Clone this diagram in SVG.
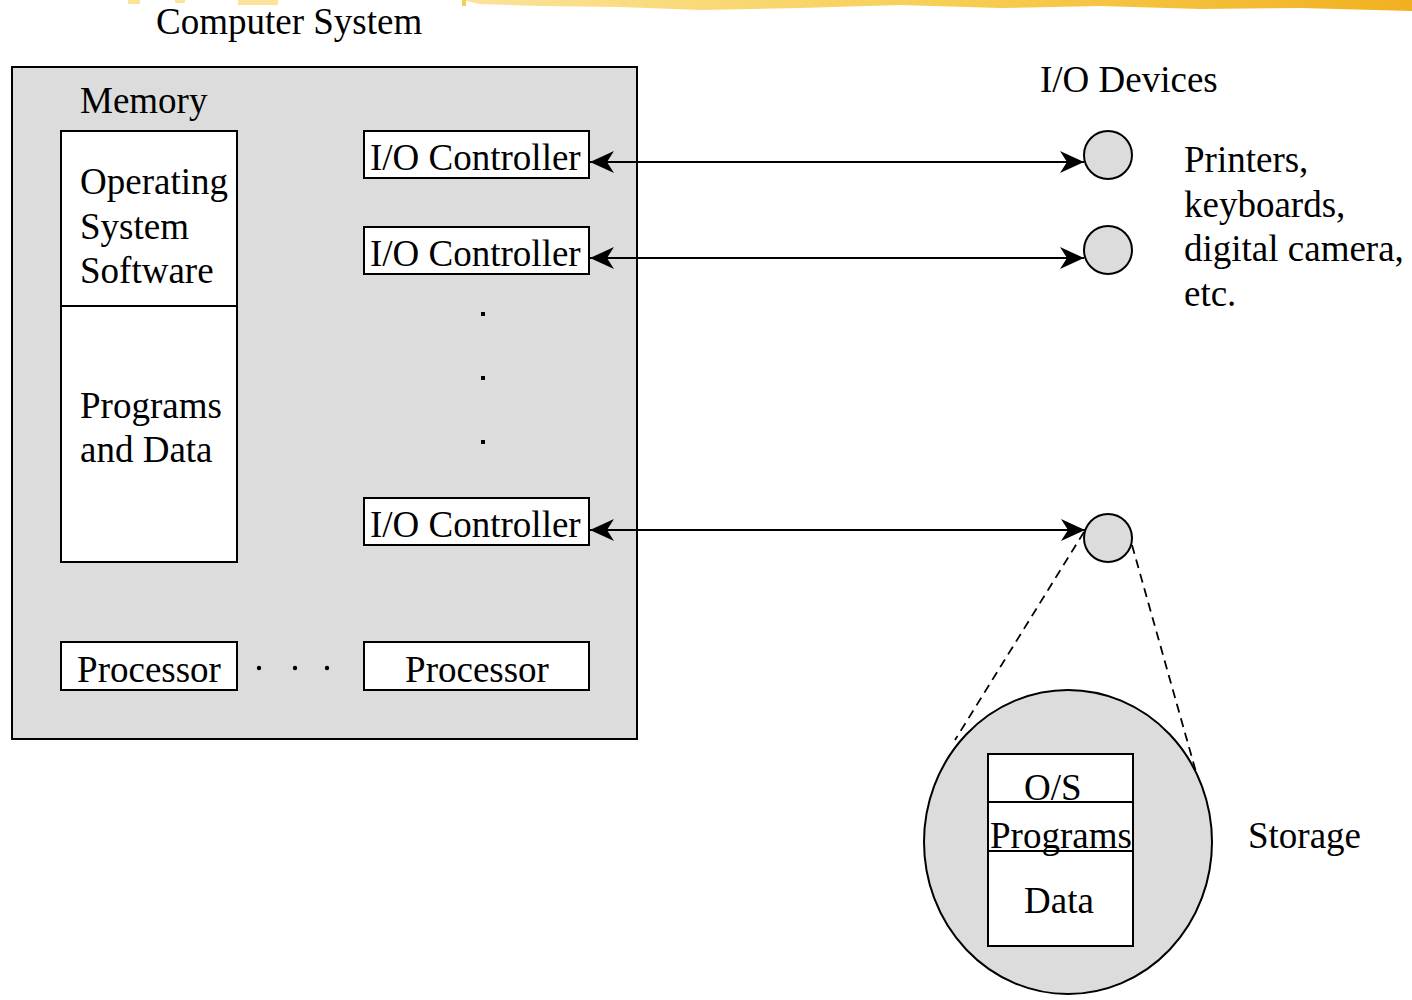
<svg xmlns="http://www.w3.org/2000/svg" width="1412" height="1000" viewBox="0 0 1412 1000">
  <style>
    text { font-family: "Liberation Serif", "Times New Roman", serif; font-size: 37px; fill: #000; }
    .box { fill: #fff; stroke: #000; stroke-width: 2; }
    .gray { fill: #dcdcdc; stroke: #000; stroke-width: 2; }
    .link { stroke: #000; stroke-width: 2; fill: none; }
    .dash { stroke: #000; stroke-width: 1.8; fill: none; stroke-dasharray: 9 6; }
    .dot { fill: #000; }
  </style>
  <defs>
    <marker id="head" markerUnits="userSpaceOnUse" markerWidth="26" markerHeight="22" viewBox="0 0 26 22" refX="24" refY="11" orient="auto-start-reverse">
      <path d="M0,0 L24,11 L0,22 L7,11 Z" fill="#000"/>
    </marker>
    <linearGradient id="brush" x1="0" y1="0" x2="1" y2="0">
      <stop offset="0" stop-color="#fbe39a"/>
      <stop offset="0.5" stop-color="#f7cf55"/>
      <stop offset="1" stop-color="#f2b020"/>
    </linearGradient>
  </defs>

  <rect width="1412" height="1000" fill="#fff"/>

  <!-- yellow brush stroke along the top edge -->
  <g id="brush-stroke">
    <path d="M462,0 L1412,0 L1412,11 L1300,8 L1200,9 L1100,6 L1000,8 L900,5 L800,8 L700,10 L620,7 L540,6 L480,4 Z" fill="url(#brush)"/>
    <rect x="128" y="0" width="12" height="4" fill="#fbe39a"/>
    <rect x="175" y="0" width="10" height="3" fill="#fbe39a"/>
    <rect x="238" y="0" width="40" height="5" fill="#fbe39a"/>
    <rect x="462" y="0" width="4" height="6" fill="#f7cf55"/>
  </g>

  <text x="156" y="34">Computer System</text>

  <!-- computer system enclosure -->
  <g id="computer-system">
    <rect class="gray" x="12" y="67" width="625" height="672"/>
  </g>

  <g id="memory">
    <text x="80" y="113">Memory</text>
    <rect class="box" x="61" y="131" width="176" height="431"/>
    <line class="link" x1="61" y1="306" x2="237" y2="306"/>
    <text x="80" y="194">Operating</text>
    <text x="80" y="239">System</text>
    <text x="80" y="283">Software</text>
    <text x="80" y="418">Programs</text>
    <text x="80" y="462">and Data</text>
  </g>

  <g id="io-controller-1">
    <rect class="box" x="364" y="131" width="225" height="47"/>
    <text x="370" y="170">I/O Controller</text>
  </g>
  <g id="io-controller-2">
    <rect class="box" x="364" y="227" width="225" height="47"/>
    <text x="370" y="266">I/O Controller</text>
  </g>
  <g id="io-controller-3">
    <rect class="box" x="364" y="498" width="225" height="47"/>
    <text x="370" y="537">I/O Controller</text>
  </g>

  <g id="controller-ellipsis">
    <rect class="dot" x="481" y="312" width="4" height="4"/>
    <rect class="dot" x="481" y="376" width="4" height="4"/>
    <rect class="dot" x="481" y="440" width="4" height="4"/>
  </g>

  <g id="processor-1">
    <rect class="box" x="61" y="642" width="176" height="48"/>
    <text x="149" y="682" text-anchor="middle">Processor</text>
  </g>
  <g id="processor-ellipsis">
    <circle class="dot" cx="259" cy="668" r="2.2"/>
    <circle class="dot" cx="295" cy="668" r="2.2"/>
    <circle class="dot" cx="327" cy="668" r="2.2"/>
  </g>
  <g id="processor-2">
    <rect class="box" x="364" y="642" width="225" height="48"/>
    <text x="477" y="682" text-anchor="middle">Processor</text>
  </g>

  <!-- I/O devices -->
  <text x="1040" y="92">I/O Devices</text>
  <g id="device-1">
    <circle class="gray" cx="1108" cy="155" r="24"/>
  </g>
  <g id="device-2">
    <circle class="gray" cx="1108" cy="250" r="24"/>
  </g>
  <g id="device-3">
    <circle class="gray" cx="1108" cy="538" r="24"/>
  </g>

  <g id="device-note">
    <text x="1184" y="172">Printers,</text>
    <text x="1184" y="217">keyboards,</text>
    <text x="1184" y="261">digital camera,</text>
    <text x="1184" y="306">etc.</text>
  </g>

  <!-- storage detail -->
  <g id="storage">
    <ellipse class="gray" cx="1068" cy="842" rx="144" ry="152"/>
    <rect class="box" x="988" y="754" width="145" height="192"/>
    <line class="link" x1="988" y1="802" x2="1133" y2="802"/>
    <line class="link" x1="988" y1="851" x2="1133" y2="851"/>
    <text x="1024" y="800">O/S</text>
    <text x="990" y="848">Programs</text>
    <text x="1024" y="913">Data</text>
  </g>
  <text x="1248" y="848">Storage</text>

  <g id="connectors">
    <line class="link" x1="590" y1="162" x2="1084" y2="162" marker-start="url(#head)" marker-end="url(#head)"/>
    <line class="link" x1="590" y1="258" x2="1084" y2="258" marker-start="url(#head)" marker-end="url(#head)"/>
    <line class="link" x1="590" y1="530" x2="1085" y2="530" marker-start="url(#head)" marker-end="url(#head)"/>
    <line class="dash" x1="1084" y1="532" x2="955" y2="740"/>
    <line class="dash" x1="1132" y1="545" x2="1196" y2="772"/>
  </g>
</svg>
